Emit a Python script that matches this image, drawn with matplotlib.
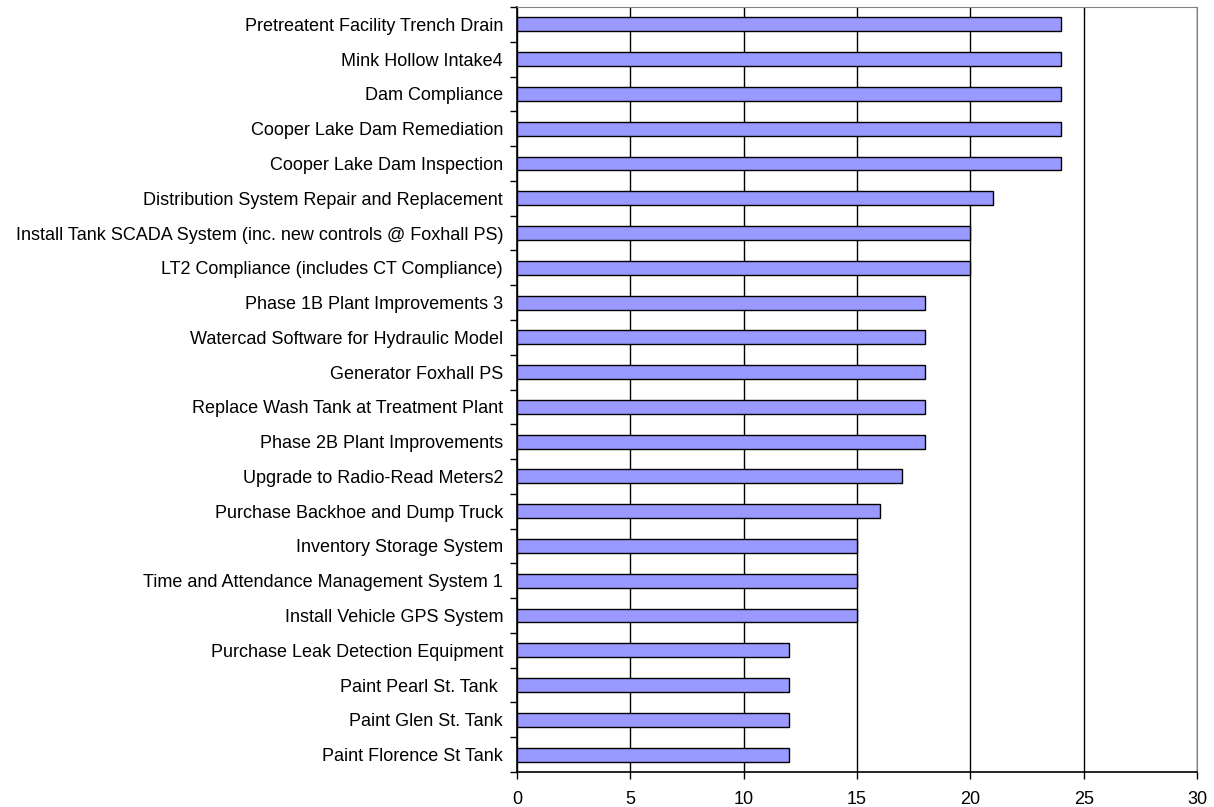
import matplotlib
matplotlib.use("Agg")
import matplotlib.pyplot as plt
import numpy as np

plt.rcParams['font.family'] = ['Liberation Sans', 'DejaVu Sans']

# proyectos, de arriba hacia abajo
projects = [
    "Pretreatent Facility Trench Drain",
    "Mink Hollow Intake4",
    "Dam Compliance",
    "Cooper Lake Dam Remediation",
    "Cooper Lake Dam Inspection",
    "Distribution System Repair and Replacement",
    "Install Tank SCADA System (inc. new controls @ Foxhall PS)",
    "LT2 Compliance (includes CT Compliance)",
    "Phase 1B Plant Improvements 3",
    "Watercad Software for Hydraulic Model",
    "Generator Foxhall PS",
    "Replace Wash Tank at Treatment Plant",
    "Phase 2B Plant Improvements",
    "Upgrade to Radio-Read Meters2",
    "Purchase Backhoe and Dump Truck",
    "Inventory Storage System",
    "Time and Attendance Management System 1",
    "Install Vehicle GPS System",
    "Purchase Leak Detection Equipment",
    "Paint Pearl St. Tank ",
    "Paint Glen St. Tank",
    "Paint Florence St Tank",
]
scores = [24, 24, 24, 24, 24, 21, 20, 20, 18, 18, 18, 18, 18, 17, 16, 15, 15, 15, 12, 12, 12, 12]
x_ticks = [0, 5, 10, 15, 20, 25, 30]

fig = plt.figure(figsize=(12.14, 8.07), dpi=100)
ax = fig.add_axes([517 / 1214, 1 - 772 / 807, 680 / 1214, 765 / 807])

n = len(projects)
y = np.arange(n)
ax.barh(y, scores, height=0.4, color="#9999FF", edgecolor="black", linewidth=1.0, zorder=3)

ax.set_xlim(0, 30)
ax.set_ylim(n - 0.5, -0.5)
ax.set_xticks(x_ticks)
ax.set_xticklabels([str(t) for t in x_ticks], fontsize=13)

# etiquetas en el centro, ticks en los bordes de categoria
ax.set_yticks(y)
ax.set_yticklabels(projects, fontsize=13)
ax.tick_params(axis="y", which="major", length=0, pad=10)
ax.set_yticks(np.arange(n + 1) - 0.5, minor=True)
ax.tick_params(axis="y", which="minor", length=5, width=1, direction="out", color="black")
ax.tick_params(axis="x", length=5, width=1, direction="out", pad=9)

ax.grid(axis="x", color="black", linewidth=1, zorder=0)
ax.set_axisbelow(True)

for side in ["top", "right"]:
    ax.spines[side].set_color("#808080")
for side in ["left", "bottom"]:
    ax.spines[side].set_color("black")
    ax.spines[side].set_linewidth(1.2)

fig.savefig("out.png", dpi=100)
